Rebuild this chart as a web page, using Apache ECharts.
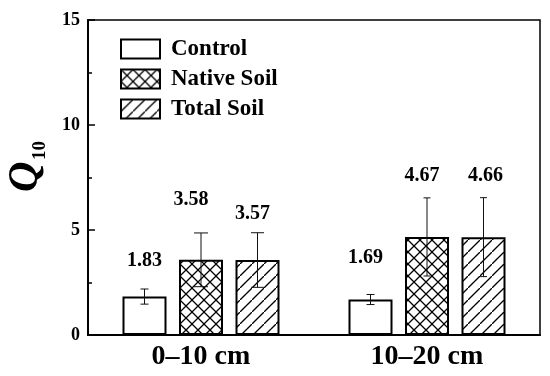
<!DOCTYPE html>
<html>
<head>
<meta charset="utf-8">
<script src="https://cdn.jsdelivr.net/npm/echarts@6/dist/echarts.min.js"></script>
<style>html,body{margin:0;padding:0;background:#fff;}#c{width:550px;height:376px;}</style>
</head>
<body>
<div id="c"></div>
<script>
// ---- data ----
var categories = ['0\u201310 cm', '10\u201320 cm'];
var seriesNames = ['Control', 'Native Soil', 'Total Soil'];
var controlValues = [1.83, 1.69];
var nativeValues = [3.58, 4.67];
var totalValues = [3.57, 4.66];
var controlErrors = [0.36, 0.24];
var nativeErrors = [1.28, 1.86];
var totalErrors = [1.30, 1.88];
var yTicks = [0, 5, 10, 15];

// ---- style ----
var FONT = 'Liberation Serif';
var BAR_W = 44, BAR_GAP_PX = 12.5;
var capWidths = [[8, 8], [14, 7], [13, 7]];
var labelShift = [[[0, -28], [-5, -37]], [[-10, -33], [-5, -22]], [[-5, -19], [2, -22]]];

function makePattern(kind) {
  var s = 12;
  var cv = document.createElement('canvas');
  cv.width = s; cv.height = s;
  var ctx = cv.getContext('2d');
  ctx.fillStyle = '#fff';
  ctx.fillRect(0, 0, s, s);
  ctx.strokeStyle = '#000';
  ctx.lineWidth = 1.3;
  ctx.beginPath();
  ctx.moveTo(-1, s + 1); ctx.lineTo(s + 1, -1);
  if (kind === 'cross') { ctx.moveTo(-1, -1); ctx.lineTo(s + 1, s + 1); }
  ctx.stroke();
  return { image: cv, repeat: 'repeat' };
}

var values = [controlValues, nativeValues, totalValues];
var errors = [controlErrors, nativeErrors, totalErrors];
var fills = ['#ffffff', makePattern('cross'), makePattern('hatch')];

var series = [];
seriesNames.forEach(function (name, k) {
  series.push({
    name: name,
    type: 'bar',
    data: values[k],
    barWidth: BAR_W,
    barGap: (BAR_GAP_PX / BAR_W * 100) + '%',
    itemStyle: { color: fills[k], borderColor: '#000', borderWidth: 2 },
    emphasis: { disabled: true },
    z: 2
  });
});
seriesNames.forEach(function (name, k) {
  var d = values[k].map(function (v, i) { return [i, v, errors[k][i]]; });
  series.push({
    type: 'custom',
    data: d,
    z: 5,
    silent: true,
    renderItem: function (params, api) {
      var i = api.value(0), v = api.value(1), e = api.value(2);
      var off = (k - 1) * (BAR_W + BAR_GAP_PX);
      var top = api.coord([i, v + e]);
      var bot = api.coord([i, v - e]);
      var x = top[0] + off;
      var cw = capWidths[k][i] / 2;
      var sh = labelShift[k][i];
      var ls = { stroke: '#111', lineWidth: 1 };
      return {
        type: 'group',
        children: [
          { type: 'line', shape: { x1: x, y1: top[1], x2: x, y2: bot[1] }, style: ls },
          { type: 'line', shape: { x1: x - cw, y1: top[1], x2: x + cw, y2: top[1] }, style: ls },
          { type: 'line', shape: { x1: x - cw, y1: bot[1], x2: x + cw, y2: bot[1] }, style: ls },
          { type: 'text', x: x + sh[0], y: top[1] + sh[1],
            style: { text: v.toFixed(2), fill: '#000', font: 'bold 20px "' + FONT + '"', align: 'center', verticalAlign: 'middle' } }
        ]
      };
    }
  });
});

var chart = echarts.init(document.getElementById('c'));
chart.setOption({
  animation: false,
  backgroundColor: '#fff',
  grid: { left: 88, right: 10, top: 20, bottom: 41, show: true, borderColor: '#000', borderWidth: 1.5, backgroundColor: 'transparent' },
  legend: {
    orient: 'vertical', left: 120, top: 37, padding: 0,
    data: seriesNames,
    itemWidth: 39, itemHeight: 19, itemGap: 6,
    icon: 'rect',
    selectedMode: false,
    textStyle: { fontFamily: FONT, fontWeight: 'bold', fontSize: 23, color: '#000', lineHeight: 24, padding: [0, 0, 0, 6] }
  },
  xAxis: {
    type: 'category', data: categories,
    axisLine: { lineStyle: { color: '#000', width: 2 } },
    axisTick: { show: false },
    axisLabel: { fontFamily: FONT, fontWeight: 'bold', fontSize: 28, color: '#000', margin: 8 }
  },
  yAxis: {
    type: 'value', min: yTicks[0], max: yTicks[yTicks.length - 1], interval: yTicks[1] - yTicks[0],
    axisLine: { show: true, lineStyle: { color: '#000', width: 2 } },
    axisTick: { show: true, inside: true, length: 7, lineStyle: { color: '#000', width: 1.5 } },
    minorTick: { show: true, splitNumber: 2, length: 4, lineStyle: { color: '#000', width: 1.5 } },
    splitLine: { show: false },
    axisLabel: { fontFamily: FONT, fontWeight: 'bold', fontSize: 18, color: '#000', margin: 8 }
  },
  graphic: [{
    type: 'group', x: 47, y: 192, rotation: Math.PI / 2,
    children: [
      { type: 'text', x: 0, y: 0, style: { text: 'Q', font: 'italic bold 42px "' + FONT + '"', fill: '#000', align: 'left', verticalAlign: 'bottom' } },
      { type: 'text', x: 32, y: 3, style: { text: '10', font: 'bold 19px "' + FONT + '"', fill: '#000', align: 'left', verticalAlign: 'bottom' } }
    ]
  }],
  series: series
});
</script>
</body>
</html>
